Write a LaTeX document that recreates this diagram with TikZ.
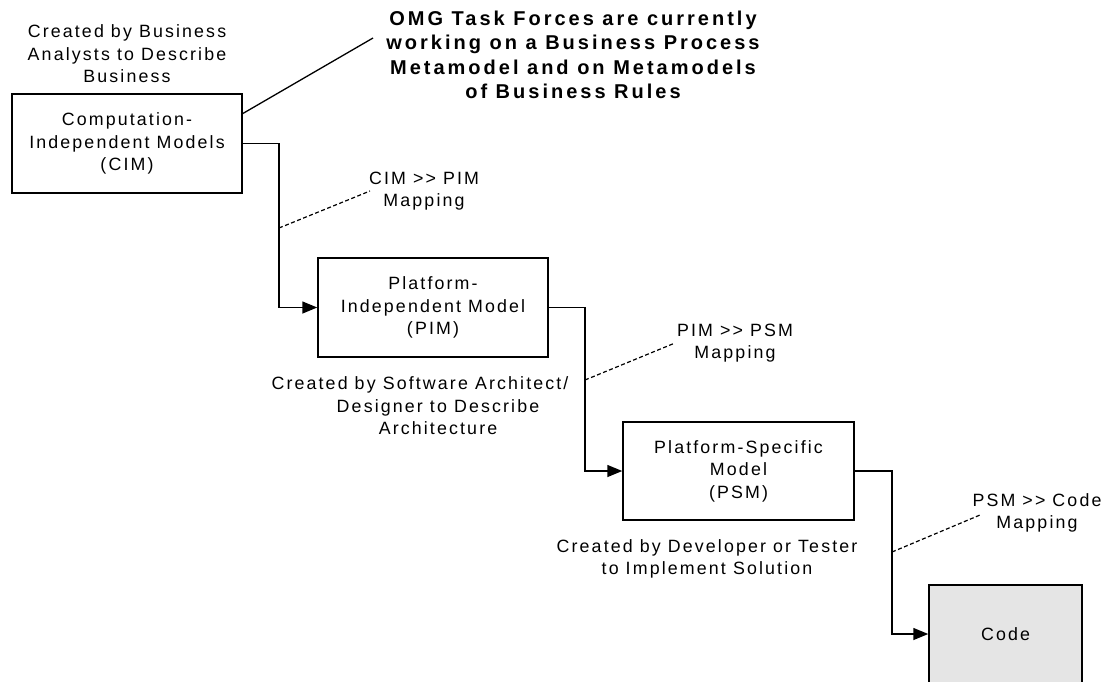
\documentclass[tikz,border=0pt]{standalone}
\usepackage{fontspec}
\setmainfont{Liberation Sans}[LetterSpace=12, BoldFeatures={LetterSpace=15}]
\usetikzlibrary{arrows.meta}

\begin{document}
\begin{tikzpicture}[x=1pt,y=-1pt,
  txt/.style={align=center, inner sep=0pt, font=\fontsize{17.8pt}{22.5pt}\selectfont},
  boldtxt/.style={align=center, inner sep=0pt, font=\bfseries\fontsize{20pt}{24.5pt}\selectfont},
  box/.style={txt, draw, line width=1.5pt, minimum width=230pt, minimum height=99pt},
  flow/.style={line width=1.5pt, -{Triangle[length=15pt,width=12pt]}},
  lead/.style={line width=1.3pt},
  map/.style={line width=1.2pt, dash pattern=on 4pt off 2.5pt}]

\useasboundingbox (0,0) rectangle (1109,681);
\clip (0,0) rectangle (1109,681);

% model boxes
\node[box] (cim) at (127,143.5) {Computation-\\Independent Models\\(CIM)};
\node[box] (pim) at (433,307.5) {Platform-\\Independent Model\\(PIM)};
\node[box, minimum width=231pt, minimum height=98pt] (psm) at (738.5,471) {Platform-Specific\\Model\\(PSM)};
\node[box, fill=black!10, minimum width=153pt, minimum height=98pt] (code) at (1005.5,634) {Code};

% annotations
\node[txt] (cimnote) at (127,54) {Created by Business\\Analysts to Describe\\Business};
\node[boldtxt] (omg) at (573,55) {OMG Task Forces are currently\\working on a Business Process\\Metamodel and on Metamodels\\of Business Rules};
\node[txt] (pimnote) at (438,406) {Created by Software Architect/\hspace*{36pt}\\Designer to Describe\\Architecture};
\node[txt] (psmnote) at (707,559) {Created by Developer or Tester\\to Implement Solution};

\node[txt] (m1) at (424,191) {CIM >{}> PIM\\Mapping};
\node[txt] (m2) at (735,343) {PIM >{}> PSM\\Mapping};
\node[txt] (m3) at (1037,513) {PSM >{}> Code\\Mapping};

% bend columns of the flow connectors
\coordinate (v1) at (279,0);
\coordinate (v2) at (585,0);
\coordinate (v3) at (892,0);

\draw[flow] (cim.east) -- (cim.east -| v1) |- (pim.west);
\draw[flow] (pim.east) -- (pim.east -| v2) |- (psm.west);
\draw[flow] (psm.east) -- (psm.east -| v3) |- (code.west);

% leader from CIM to the OMG note
\coordinate (c0) at (242,114);
\coordinate (c1) at (373,38);
\draw[lead] (c0) -- (c1);

% mapping leaders
\coordinate (a1) at (279,228);
\coordinate (b1) at (370,191);
\coordinate (a2) at (585,380);
\coordinate (b2) at (675,343);
\coordinate (a3) at (892,552);
\coordinate (b3) at (980,515);
\draw[map] (a1) -- (b1);
\draw[map] (a2) -- (b2);
\draw[map] (a3) -- (b3);
\end{tikzpicture}
\end{document}
